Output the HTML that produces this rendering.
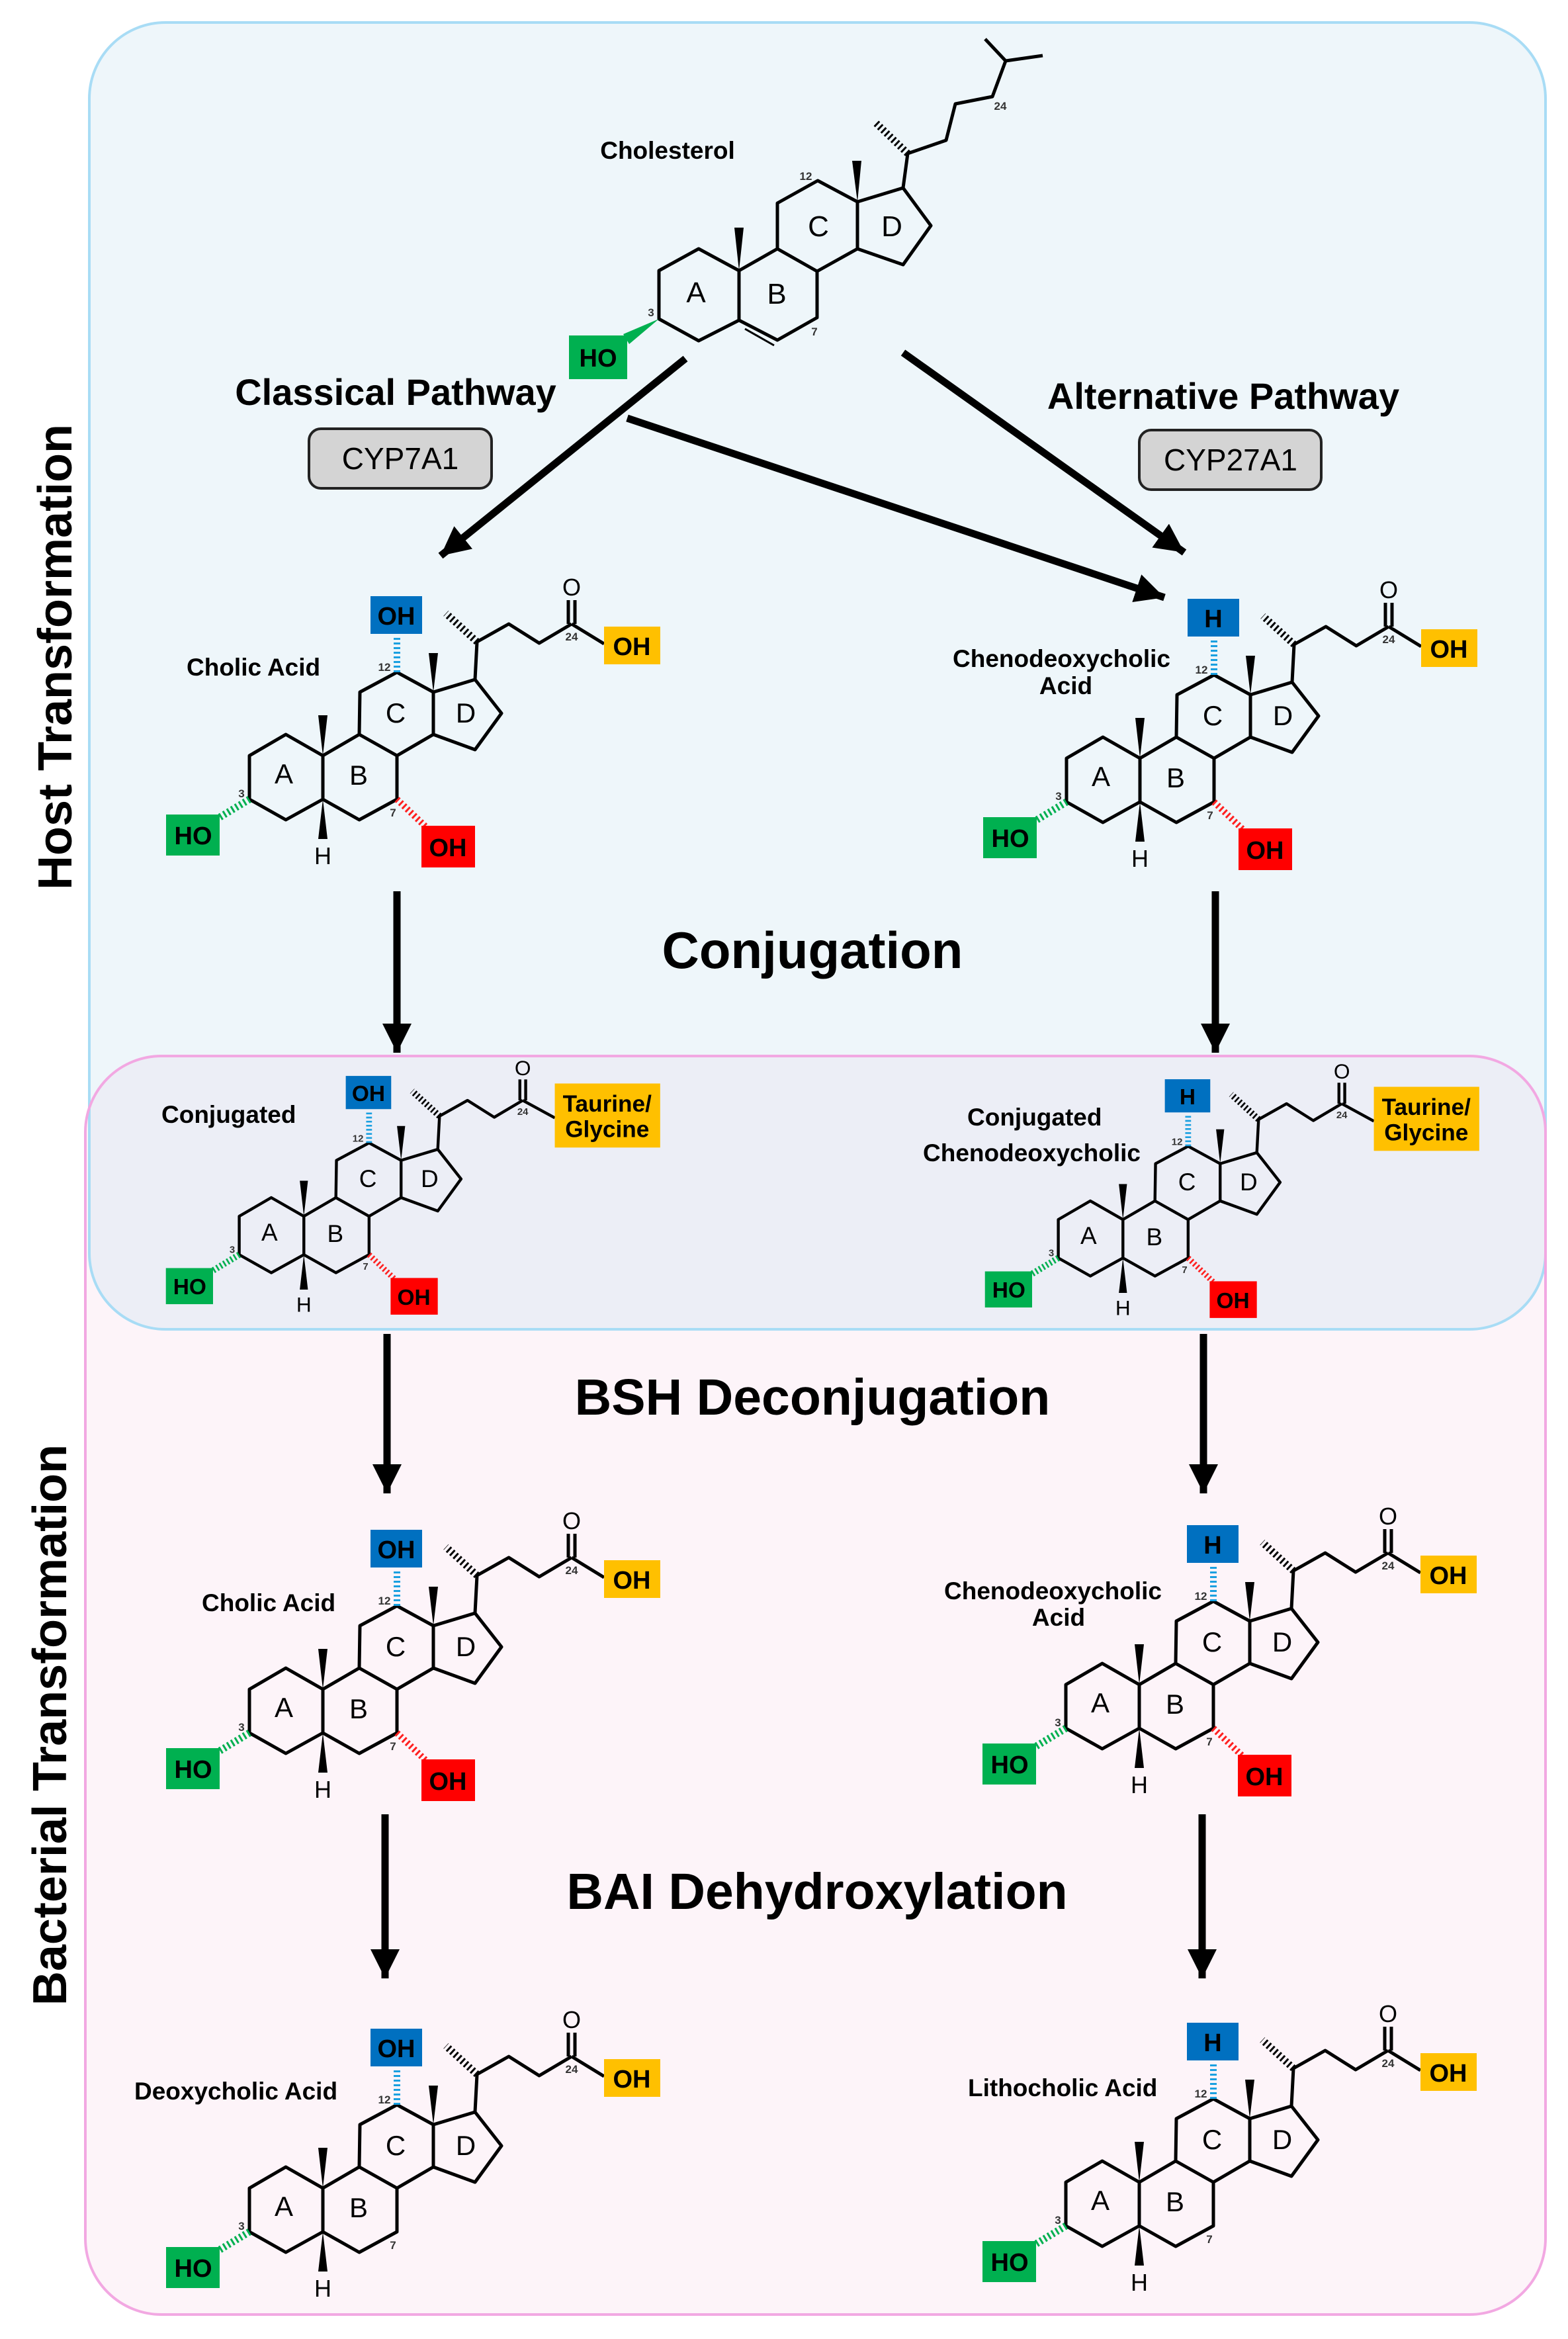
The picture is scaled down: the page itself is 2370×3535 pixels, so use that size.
<!DOCTYPE html>
<html><head><meta charset="utf-8"><style>
html,body{margin:0;padding:0;background:#fff;}
svg{display:block;}
text{font-family:"Liberation Sans",Arial,sans-serif;}
</style></head><body>
<svg width="2370" height="3535" viewBox="0 0 2370 3535" xmlns="http://www.w3.org/2000/svg">
<defs>
<marker id="ah" markerUnits="userSpaceOnUse" markerWidth="50" markerHeight="50" refX="44" refY="22" orient="auto">
<path d="M0,0 L44,22 L0,44 Z" fill="#000"/>
</marker>
<g id="core">
<g stroke="#000" stroke-width="5" fill="none" stroke-linejoin="round">
<polygon points="-55,32 0,0 56,32 56,98 0,129 -55,98"/>
<polyline points="56,32 111,0 168,32 168,98 111,129 56,98"/>
<polyline points="111,0 112,-64 168,-94 223,-64 223,0 168,32"/>
<polyline points="223,-64 286,-83 326,-32 286,23 223,0"/>
<polyline points="286,-83 289,-140 337,-167 383,-138 432,-167"/>
<line x1="427" y1="-167" x2="427" y2="-203"/><line x1="437" y1="-167" x2="437" y2="-203"/>
</g>
<polygon points="56,32 49,-29 63,-29" fill="#000"/>
<polygon points="223,-64 216,-123 230,-123" fill="#000"/>
<polygon points="56,98 49,158 63,158" fill="#000"/>
<line x1="289" y1="-140" x2="242" y2="-183" stroke="#000" stroke-width="11" stroke-dasharray="3 4"/>
<line x1="-55" y1="98" x2="-103" y2="127" stroke="#00b050" stroke-width="11" stroke-dasharray="3 4"/>
<rect x="-181" y="121" width="81" height="62" fill="#00b050"/>
<text x="-140" y="166" font-size="38" font-weight="bold" text-anchor="middle">HO</text>
<text x="432" y="-210" font-size="36" text-anchor="middle">O</text>
<text x="56" y="196" font-size="36" text-anchor="middle">H</text>
<text x="-67" y="95" font-size="17" font-weight="bold" text-anchor="middle" fill="#333">3</text>
<text x="162" y="124" font-size="17" font-weight="bold" text-anchor="middle" fill="#333">7</text>
<text x="149" y="-96" font-size="17" font-weight="bold" text-anchor="middle" fill="#333">12</text>
<text x="432" y="-142" font-size="17" font-weight="bold" text-anchor="middle" fill="#333">24</text>
<g font-size="42" text-anchor="middle">
<text x="-3" y="74">A</text><text x="110" y="76">B</text><text x="166" y="-18">C</text><text x="272" y="-18">D</text>
</g>
</g>
<g id="oh12">
<line x1="168" y1="-94" x2="168" y2="-150" stroke="#1aa0e0" stroke-width="10" stroke-dasharray="3 4"/>
<rect x="128" y="-209" width="78" height="57" fill="#0070c0"/>
<text x="167" y="-166" font-size="38" font-weight="bold" text-anchor="middle">OH</text>
</g>
<g id="h12">
<line x1="168" y1="-94" x2="168" y2="-150" stroke="#1aa0e0" stroke-width="10" stroke-dasharray="3 4"/>
<rect x="128" y="-209" width="78" height="57" fill="#0070c0"/>
<text x="167" y="-166" font-size="38" font-weight="bold" text-anchor="middle">H</text>
</g>
<g id="oh7">
<line x1="168" y1="98" x2="212" y2="140" stroke="#ff2020" stroke-width="10" stroke-dasharray="3 4"/>
<rect x="205" y="138" width="81" height="63" fill="#ff0000"/>
<text x="245" y="184" font-size="38" font-weight="bold" text-anchor="middle">OH</text>
</g>
<g id="cooh">
<line x1="432" y1="-167" x2="481" y2="-137" stroke="#000" stroke-width="5"/>
<rect x="481" y="-163" width="85" height="57" fill="#ffc000"/>
<text x="523" y="-120" font-size="38" font-weight="bold" text-anchor="middle">OH</text>
</g>
<g id="conj">
<line x1="432" y1="-167" x2="487" y2="-137" stroke="#000" stroke-width="5"/>
<rect x="487" y="-196" width="181" height="110" fill="#ffc000"/>
<text x="577" y="-148" font-size="40" font-weight="bold" text-anchor="middle">Taurine/</text>
<text x="577" y="-104" font-size="40" font-weight="bold" text-anchor="middle">Glycine</text>
</g>
</defs>

<!-- regions -->
<rect x="129" y="1596" width="2207" height="1902" rx="115" fill="#fdf4f9"/>
<rect x="135" y="34" width="2201" height="1975" rx="115" fill="rgb(200,225,240)" fill-opacity="0.3" stroke="#a8dcf5" stroke-width="4"/>
<rect x="129" y="1596" width="2207" height="1902" rx="115" fill="none" stroke="#f2a8e2" stroke-width="4"/>

<!-- side labels -->
<text transform="translate(108,993) rotate(-90)" font-size="72" font-weight="bold" text-anchor="middle">Host Transformation</text>
<text transform="translate(100,2607) rotate(-90)" font-size="72" font-weight="bold" text-anchor="middle">Bacterial Transformation</text>

<!-- cholesterol -->
<g stroke="#000" stroke-width="5" fill="none" stroke-linejoin="round">
<polygon points="996,409 1056,376 1117,409 1117,484 1056,515 996,482"/>
<polyline points="1117,409 1175,376 1235,410 1235,480 1175,514 1117,484"/>
<line x1="1126" y1="497" x2="1170" y2="522" stroke-width="3"/>
<polyline points="1175,376 1175,307 1236,273 1296,305 1296,376 1235,410"/>
<polyline points="1296,305 1365,284 1407,341 1365,400 1296,376"/>
<polyline points="1365,284 1372,232 1430,212 1444,157 1500,146 1520,92 1489,59"/>
<line x1="1520" y1="92" x2="1576" y2="84"/>
</g>
<polygon points="1117,409 1110,344 1124,344" fill="#000"/>
<polygon points="1296,305 1288,243 1302,243" fill="#000"/>
<line x1="1372" y1="232" x2="1323" y2="185" stroke="#000" stroke-width="11" stroke-dasharray="3 4"/>
<polygon points="996,482 942,505 951,520" fill="#00b050"/>
<rect x="860" y="507" width="88" height="66" fill="#00b050"/>
<text x="904" y="554" font-size="38" font-weight="bold" text-anchor="middle">HO</text>
<g font-size="44" text-anchor="middle">
<text x="1052" y="457">A</text><text x="1174" y="459">B</text><text x="1237" y="357">C</text><text x="1348" y="357">D</text>
</g>
<text x="984" y="478" font-size="17" font-weight="bold" text-anchor="middle" fill="#333">3</text>
<text x="1231" y="507" font-size="17" font-weight="bold" text-anchor="middle" fill="#333">7</text>
<text x="1218" y="272" font-size="17" font-weight="bold" text-anchor="middle" fill="#333">12</text>
<text x="1512" y="166" font-size="17" font-weight="bold" text-anchor="middle" fill="#333">24</text>
<text x="1009" y="240" font-size="37" font-weight="bold" text-anchor="middle">Cholesterol</text>

<!-- pathways -->
<text x="598" y="612" font-size="56" font-weight="bold" text-anchor="middle">Classical Pathway</text>
<rect x="467" y="648" width="276" height="90" rx="18" fill="#d4d4d4" stroke="#222" stroke-width="4"/>
<text x="605" y="709" font-size="46" text-anchor="middle">CYP7A1</text>
<text x="1849" y="618" font-size="56" font-weight="bold" text-anchor="middle">Alternative Pathway</text>
<rect x="1722" y="650" width="275" height="90" rx="18" fill="#d4d4d4" stroke="#222" stroke-width="4"/>
<text x="1860" y="711" font-size="46" text-anchor="middle">CYP27A1</text>

<!-- arrows -->
<g stroke="#000" stroke-width="11" marker-end="url(#ah)">
<line x1="1036" y1="542" x2="666" y2="840"/>
<line x1="948" y1="632" x2="1760" y2="903"/>
<line x1="1365" y1="533" x2="1790" y2="835"/>
<line x1="600" y1="1347" x2="600" y2="1591"/>
<line x1="1837" y1="1347" x2="1837" y2="1591"/>
<line x1="585" y1="2016" x2="585" y2="2257"/>
<line x1="1819" y1="2016" x2="1819" y2="2257"/>
<line x1="582" y1="2742" x2="582" y2="2990"/>
<line x1="1817" y1="2742" x2="1817" y2="2990"/>
</g>

<text x="1228" y="1463" font-size="78" font-weight="bold" text-anchor="middle">Conjugation</text>
<text x="1228" y="2138" font-size="77" font-weight="bold" text-anchor="middle">BSH Deconjugation</text>
<text x="1235" y="2885" font-size="77" font-weight="bold" text-anchor="middle">BAI Dehydroxylation</text>

<!-- molecules -->
<g transform="translate(432,1110)"><use href="#core"/><use href="#oh12"/><use href="#oh7"/><use href="#cooh"/></g>
<text x="282" y="1021" font-size="37" font-weight="bold">Cholic Acid</text>

<g transform="translate(1667,1114)"><use href="#core"/><use href="#h12"/><use href="#oh7"/><use href="#cooh"/></g>
<text x="1440" y="1008" font-size="37" font-weight="bold">Chenodeoxycholic</text>
<text x="1611" y="1049" font-size="37" font-weight="bold" text-anchor="middle">Acid</text>

<g transform="translate(410,1810) scale(0.88)"><use href="#core"/><use href="#oh12"/><use href="#oh7"/><use href="#conj"/></g>
<text x="244" y="1697" font-size="37" font-weight="bold">Conjugated</text>

<g transform="translate(1648,1815) scale(0.88)"><use href="#core"/><use href="#h12"/><use href="#oh7"/><use href="#conj"/></g>
<text x="1462" y="1701" font-size="37" font-weight="bold">Conjugated</text>
<text x="1395" y="1755" font-size="37" font-weight="bold">Chenodeoxycholic</text>

<g transform="translate(432,2521)"><use href="#core"/><use href="#oh12"/><use href="#oh7"/><use href="#cooh"/></g>
<text x="305" y="2435" font-size="37" font-weight="bold">Cholic Acid</text>

<g transform="translate(1666,2514)"><use href="#core"/><use href="#h12"/><use href="#oh7"/><use href="#cooh"/></g>
<text x="1427" y="2417" font-size="37" font-weight="bold">Chenodeoxycholic</text>
<text x="1600" y="2457" font-size="37" font-weight="bold" text-anchor="middle">Acid</text>

<g transform="translate(432,3275)"><use href="#core"/><use href="#oh12"/><use href="#cooh"/></g>
<text x="203" y="3173" font-size="37" font-weight="bold">Deoxycholic Acid</text>

<g transform="translate(1666,3266)"><use href="#core"/><use href="#h12"/><use href="#cooh"/></g>
<text x="1463" y="3168" font-size="37" font-weight="bold">Lithocholic Acid</text>
</svg>
</body></html>
